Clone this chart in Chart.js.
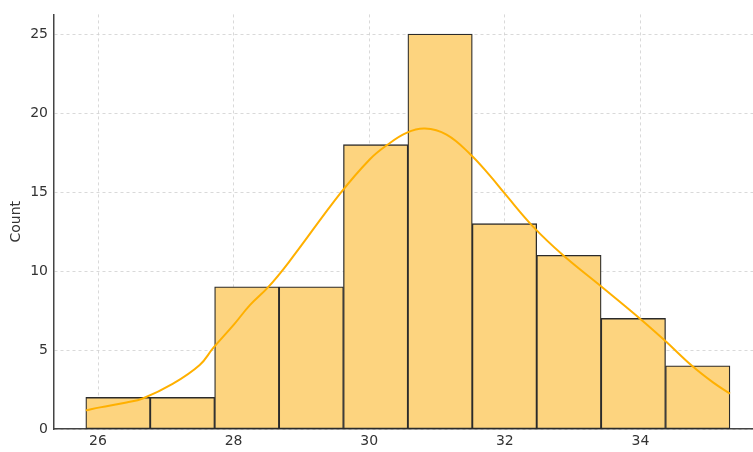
<!DOCTYPE html>
<html>
<head>
<meta charset="utf-8">
<script src="https://cdn.jsdelivr.net/npm/chart.js@4"></script>
<style>
  html, body { margin: 0; padding: 0; background: #fff; }
  #wrap { width: 753px; height: 452px; }
</style>
</head>
<body>
<div id="wrap"><canvas id="hist" width="753" height="452"></canvas></div>
<script>
/* histogram + kde */

const binCenters = [26.295, 27.245, 28.195, 29.145, 30.095, 31.045, 31.995, 32.945, 33.895, 34.845];
const binCounts = [2, 2, 9, 9, 18, 25, 13, 11, 7, 4];

const kdeX = [25.82, 26.03, 26.42, 26.66, 27.10, 27.50, 27.70, 28.00, 28.24, 28.51, 28.81,
    29.57, 30.01, 30.26, 30.55, 30.82, 31.14, 31.49, 31.78, 32.00, 32.42, 32.86, 33.40,
    33.99, 34.36, 34.76, 35.07, 35.32];
const kdeY = [1.18, 1.37, 1.68, 1.93, 2.85, 4.05, 5.13, 6.59, 7.84, 8.98, 10.54,
    14.9, 17.08, 17.97, 18.75, 19.02, 18.64, 17.4, 16.04, 14.9, 12.8, 11.0, 9.1,
    7.0, 5.6, 4.0, 2.95, 2.24];

const xTicks = [26, 28, 30, 32, 34];
const yTicks = [0, 5, 10, 15, 20, 25];

const font = { family: 'DejaVu Sans', size: 14 };
const textColor = '#333';

const ctx = document.getElementById('hist').getContext('2d');
new Chart(ctx, {
    type: 'bar',
    data: {
        datasets: [
            {
                type: 'line',
                data: kdeX.map((x, i) => ({ x, y: kdeY[i] })),
                borderColor: '#FFB000',
                borderWidth: 2,
                pointRadius: 0,
                tension: 0.4,
                fill: false,
                order: 0,
            },
            {
                type: 'bar',
                data: binCenters.map((x, i) => ({ x, y: binCounts[i] })),
                backgroundColor: 'rgba(253,212,127,1)',
                borderColor: '#2b2b2b',
                borderWidth: 1.3,
                borderSkipped: false,
                barPercentage: 1,
                categoryPercentage: 1,
                order: 1,
            },
        ],
    },
    options: {
        responsive: false,
        animation: false,
        layout: { padding: { top: 8, right: 0, left: 0, bottom: 0 } },
        plugins: { legend: { display: false }, tooltip: { enabled: false } },
        scales: {
            x: {
                type: 'linear',
                offset: false,
                min: 25.351,
                max: 35.66,
                afterBuildTicks: s => { s.ticks = xTicks.map(v => ({ value: v })); },
                afterFit: s => { s.height = 23; },
                ticks: { font, color: textColor, padding: 4, maxRotation: 0 },
                grid: { offset: false, color: '#d0d0d0', lineWidth: 0.8, drawTicks: false },
                border: { display: true, color: '#444', width: 1.5, dash: [3, 3] },
            },
            y: {
                type: 'linear',
                min: 0,
                max: 26.25,
                afterBuildTicks: s => { s.ticks = yTicks.map(v => ({ value: v })); },
                afterFit: s => { s.width = 54; },
                ticks: { font, color: textColor, padding: 6 },
                grid: { color: '#d0d0d0', lineWidth: 0.8, drawTicks: false },
                border: { display: true, color: '#444', width: 1.5, dash: [3, 3] },
                title: { display: true, text: 'Count', font, color: textColor, padding: { top: 8, bottom: 0 } },
            },
        },
    },
});
</script>
</body>
</html>
